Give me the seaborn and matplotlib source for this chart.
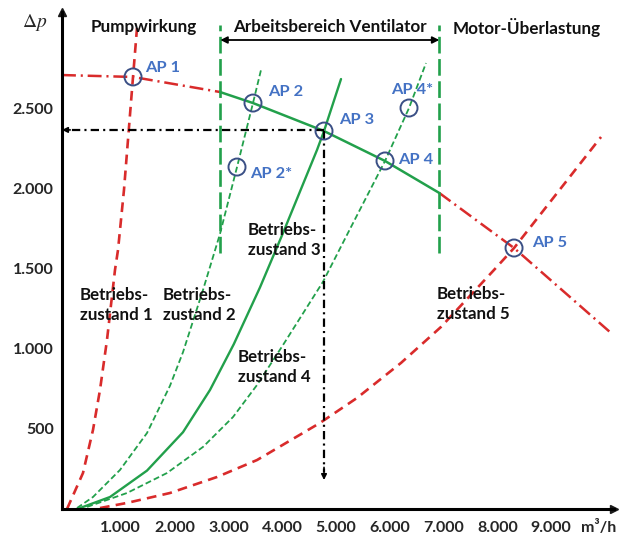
import numpy as np
import pandas as pd
import seaborn as sns
import matplotlib.pyplot as plt

# Betriebszustände (Anlagenkennlinien), Werte
q1 = [0, 297, 483, 613, 743, 892, 948, 1059, 1227, 1301]
p1 = [0, 225, 494, 744, 1056, 1494, 1619, 1994, 2700, 3006]

q2 = [186, 483, 985, 1487, 1914, 2156, 2528, 2844, 3160, 3457, 3606]
p2 = [6, 75, 244, 475, 770, 980, 1369, 1720, 2137, 2537, 2744]

q3 = [242, 799, 1487, 2156, 2658, 3100, 3587, 4015, 4647, 4777, 5093]
p3 = [6, 75, 240, 480, 744, 1030, 1385, 1725, 2244, 2362, 2687]

q4 = [372, 1115, 1859, 2528, 3086, 3532, 4015, 4758, 5260, 5911, 6357, 6673]
p4 = [13, 100, 225, 388, 575, 775, 1025, 1420, 1750, 2175, 2506, 2787]

q5 = [613, 1115, 1914, 2788, 3532, 4703, 5390, 6208, 6952, 7937, 8309, 9926]
p5 = [6, 38, 100, 200, 306, 538, 694, 913, 1138, 1494, 1631, 2325]

# Ventilatorkennlinie
fan_q = [-93, 1227, 2844, 3457, 4777, 5911, 6920, 8309, 10112]
fan_p = [2712, 2700, 2606, 2537, 2362, 2175, 1975, 1631, 1100]

# Arbeitspunkte
ap_names = ["AP 1", "AP 2", "AP 2*", "AP 3", "AP 4", "AP 4*", "AP 5"]
ap_q = [1227, 3457, 3160, 4777, 5911, 6357, 8309]
ap_p = [2700, 2537, 2137, 2362, 2175, 2506, 1631]

x_ticks = [1000, 2000, 3000, 4000, 5000, 6000, 7000, 8000, 9000]
x_labels = ["1.000", "2.000", "3.000", "4.000", "5.000", "6.000", "7.000", "8.000", "9.000"]
y_ticks = [500, 1000, 1500, 2000, 2500]
y_labels = ["500", "1.000", "1.500", "2.000", "2.500"]

range_lo, range_hi = 2850, 6920   # Arbeitsbereich Ventilator

red = "#d92b2b"
green = "#22a04b"
blue = "#4472c4"
circ = "#3a4f85"

sns.set_theme(style="white")
plt.rcParams['font.family'] = ['Lato', 'DejaVu Sans']
plt.rcParams['mathtext.fontset'] = 'stix'
plt.rcParams['lines.scale_dashes'] = False
plt.rcParams['lines.solid_joinstyle'] = 'round'
plt.rcParams['lines.dash_joinstyle'] = 'round'

fig = plt.figure(figsize=(6.28, 5.36), dpi=100)
ax = fig.add_axes([62/628, 27/536, 552/628, 497/536])
ax.set_xlim(-93, 10167)
ax.set_ylim(0, 3106)

# Anlagenkennlinien
sns.lineplot(x=q1, y=p1, ax=ax, color=red, linewidth=1.9, linestyle=(0, (7, 4.5)), estimator=None)
sns.lineplot(x=q5, y=p5, ax=ax, color=red, linewidth=1.9, linestyle=(0, (7, 4.5)), estimator=None)
sns.lineplot(x=q2, y=p2, ax=ax, color=green, linewidth=1.3, linestyle=(0, (4.3, 2.2)), estimator=None)
sns.lineplot(x=q4, y=p4, ax=ax, color=green, linewidth=1.3, linestyle=(0, (4.3, 2.2)), estimator=None)
sns.lineplot(x=q3, y=p3, ax=ax, color=green, linewidth=1.7, estimator=None)

# Ventilatorkennlinie: rot außerhalb, grün im Arbeitsbereich
fan = pd.DataFrame({"q": fan_q, "p": fan_p})
inside = fan[(fan.q >= range_lo - 10) & (fan.q <= range_hi)]
left = fan[fan.q <= range_lo]
right = fan[fan.q >= range_hi]
dashdot = (0, (10, 3.5, 1.5, 3.5))
sns.lineplot(data=left, x="q", y="p", ax=ax, color=red, linewidth=1.8, linestyle=dashdot, estimator=None)
sns.lineplot(data=right, x="q", y="p", ax=ax, color=red, linewidth=1.8, linestyle=dashdot, estimator=None)
sns.lineplot(data=inside, x="q", y="p", ax=ax, color=green, linewidth=1.8, estimator=None)

# Grenzen des Arbeitsbereichs
for xv in (range_lo, range_hi):
    ax.plot([xv, xv], [1600, 3025], color=green, linewidth=1.9, linestyle=(0, (12, 4)))
ax.annotate("", xy=(range_lo, 2931), xytext=(range_hi, 2931),
            arrowprops=dict(arrowstyle="<|-|>", color="black", lw=1.3, mutation_scale=10,
                            shrinkA=0, shrinkB=0))

# Ablesehilfe AP 3
blk = (0, (6, 3, 1.5, 3))
ax.plot([4777, 0], [2369, 2369], color="black", linewidth=1.6, linestyle=blk)
ax.annotate("", xy=(-93, 2369), xytext=(60, 2369),
            arrowprops=dict(arrowstyle="-|>", color="black", lw=1.2, mutation_scale=8,
                            shrinkA=0, shrinkB=0), annotation_clip=False)
ax.plot([4777, 4777], [2362, 230], color="black", linewidth=1.6, linestyle=blk)
ax.annotate("", xy=(4777, 181), xytext=(4777, 260),
            arrowprops=dict(arrowstyle="-|>", color="black", lw=1.2, mutation_scale=8,
                            shrinkA=0, shrinkB=0))

# Arbeitspunkte
sns.scatterplot(x=ap_q, y=ap_p, ax=ax, s=150, marker="o", facecolor="none",
                edgecolor=circ, linewidth=1.4, zorder=5)

ap_text = {"AP 1": (1450, 2756), "AP 2": (3736, 2606), "AP 2*": (3401, 2094),
           "AP 3": (5056, 2431), "AP 4": (6152, 2181), "AP 4*": (6022, 2619),
           "AP 5": (8643, 1663)}
for name in ap_names:
    tx, ty = ap_text[name]
    ax.text(tx, ty, name, color=blue, fontsize=11.8, fontweight="bold", ha="left", va="center")

# Betriebszustände
bz = {"1": (242, 1275), "2": (1784, 1275), "3": (3364, 1681), "4": (3178, 888), "5": (6877, 1281)}
for k, (tx, ty) in bz.items():
    ax.text(tx, ty, "Betriebs-\nzustand " + k, fontsize=12.2, fontweight="bold",
            ha="left", va="center", linespacing=1.3, color="#111111")

# Bereichsüberschriften
for label, xc in [("Pumpwirkung", 1431), ("Arbeitsbereich Ventilator", 4888), ("Motor-Überlastung", 8550)]:
    ax.text(xc, 3012, label, fontsize=12.3, fontweight="bold", ha="center", va="center", color="#111111")

# Achsen
for s in ["top", "right"]:
    ax.spines[s].set_visible(False)
for s in ["left", "bottom"]:
    ax.spines[s].set_linewidth(2.2)
    ax.spines[s].set_color("black")
ax.plot(1, 0, ">k", ms=6, transform=ax.transAxes, clip_on=False)
ax.plot(0, 1, "^k", ms=6, transform=ax.transAxes, clip_on=False)

ax.set_xticks(x_ticks, x_labels)
ax.set_yticks(y_ticks, y_labels)
ax.tick_params(axis="x", length=0, pad=9, labelsize=11.5)
ax.tick_params(axis="y", length=0, pad=6, labelsize=11.5)
for lab in ax.get_xticklabels() + ax.get_yticklabels():
    lab.set_fontweight("bold")
ax.set_xlabel("")
ax.set_ylabel("")

ax.text(9888, -0.037, "m³/h", transform=ax.get_xaxis_transform(), fontsize=11.5,
        fontweight="bold", ha="center", va="center")
ax.text(-0.05, 0.979, r"$\Delta p$", transform=ax.transAxes, fontsize=14,
        ha="center", va="center")

fig.savefig("out.png", dpi=100)
